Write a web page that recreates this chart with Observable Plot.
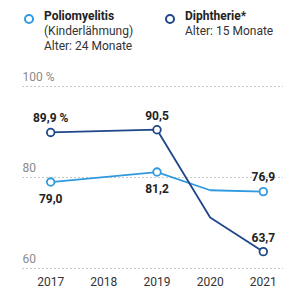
<!DOCTYPE html>
<html>
<head>
<meta charset="utf-8">
<script src="https://cdn.jsdelivr.net/npm/d3@7"></script>
<script src="https://cdn.jsdelivr.net/npm/@observablehq/plot@0.6"></script>
<style>
  body { margin: 0; background: #fff; }
  #wrap { position: relative; width: 300px; height: 300px; font-family: Roboto, sans-serif; }
  .leg { position: absolute; top: 9px; font-size: 12px; line-height: 15px; color: #333; }
  .leg b { color: #222; font-weight: 700; }
  .leg .dot { position: absolute; left: -20.5px; top: 5px; width: 6px; height: 6px; border-radius: 50%; border: 2px solid; background: #fff; }
  svg { position: absolute; left: 0; top: 0; }
</style>
</head>
<body>
<div id="wrap"></div>
<script>
// Impfquoten in Prozent
const years = [2017, 2018, 2019, 2020, 2021];
const polio = [79.0, null, 81.2, 77.2, 76.9];
const diphtherie = [89.9, null, 90.5, 71.2, 63.7];
const markedYears = [2017, 2019, 2021];
const yTicks = [60, 80, 100];

const polioColor = "#2f9ae0";
const diphColor = "#1e4789";

const comma = (v) => d3.format(".1f")(v).replace(".", ",");

function rows(series, name) {
  return years
    .map((year, i) => ({year, value: series[i], name}))
    .filter((d) => d.value != null);
}
const polioRows = rows(polio, "Poliomyelitis");
const diphRows = rows(diphtherie, "Diphtherie");
const marked = (r) => r.filter((d) => markedYears.includes(d.year));
const lastYear = years[years.length - 1];

const labelStyle = {fontSize: 12, fontWeight: 700, fill: "#222"};

const wrap = document.getElementById("wrap");

const chart = Plot.plot({
  width: 300,
  height: 300,
  marginTop: 86,
  marginBottom: 32,
  marginLeft: 22,
  marginRight: 17,
  style: {fontFamily: "Roboto, sans-serif", background: "transparent"},
  x: {type: "linear", domain: [2016.47, 2021.38], label: null},
  y: {domain: [60, 100], axis: null},
  marks: [
    Plot.ruleY(yTicks, {stroke: "#c8c8c8", strokeDasharray: "2,2", strokeWidth: 1}),
    Plot.text(yTicks, {
      y: (d) => d, frameAnchor: "left", textAnchor: "start", dy: -9,
      text: (d) => d === 100 ? "100 %" : String(d),
      fill: "#8a8a8a", fontSize: 12
    }),
    Plot.axisX({ticks: years, tickSize: 0, tickPadding: 9, fontSize: 12, color: "#333", label: null, tickFormat: (d) => String(d)}),
    Plot.line(polioRows, {x: "year", y: "value", stroke: polioColor, strokeWidth: 1.8}),
    Plot.line(diphRows, {x: "year", y: "value", stroke: diphColor, strokeWidth: 1.8}),
    Plot.dot(marked(polioRows), {x: "year", y: "value", r: 3.8, stroke: polioColor, strokeWidth: 1.8, fill: "white"}),
    Plot.dot(marked(diphRows), {x: "year", y: "value", r: 3.8, stroke: diphColor, strokeWidth: 1.8, fill: "white"}),
    // Polio: Werte unter den Punkten, der letzte darüber
    Plot.text(marked(polioRows).filter((d) => d.year !== lastYear), {
      x: "year", y: "value", text: (d) => comma(d.value), dy: 17, ...labelStyle
    }),
    Plot.text(marked(polioRows).filter((d) => d.year === lastYear), {
      x: "year", y: "value", text: (d) => comma(d.value), dy: -14, ...labelStyle
    }),
    // Diphtherie: Werte über den Punkten
    Plot.text(marked(diphRows), {
      x: "year", y: "value",
      text: (d, i) => comma(d.value) + (i === 0 ? " %" : ""),
      dy: -14, ...labelStyle
    })
  ]
});

wrap.appendChild(chart);

const legend = [
  {left: 44, color: polioColor, lines: ["Poliomyelitis", "(Kinderlähmung)", "Alter: 24 Monate"]},
  {left: 185, color: diphColor, lines: ["Diphtherie*", "Alter: 15 Monate"]}
];
for (const item of legend) {
  const div = document.createElement("div");
  div.className = "leg";
  div.style.left = item.left + "px";
  div.innerHTML = `<span class="dot" style="border-color:${item.color}"></span><b>${item.lines[0]}</b><br>` +
    item.lines.slice(1).join("<br>");
  wrap.appendChild(div);
}
</script>
</body>
</html>
